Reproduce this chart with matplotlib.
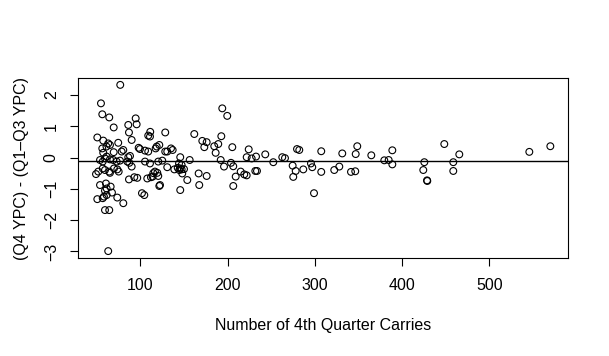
import matplotlib
matplotlib.use("Agg")
import matplotlib.pyplot as plt
import numpy as np

plt.rcParams["font.family"] = ["Liberation Sans", "DejaVu Sans"]

# Carries au 4e quart-temps et écart de YPC
carries = [
    76.8, 54.7, 56.2, 64.2, 69.3, 86.0, 94.5, 95.6, 86.8, 89.9,
    111.2, 108.9, 110.9, 50.5, 57.3, 63.0, 65.0, 61.0, 74.5, 56.2,
    80.3, 78.4, 69.3, 57.3, 97.9, 99.4, 105.2, 108.9, 118.6, 117.4,
    88.0, 86.0, 61.2, 59.3, 65.0, 68.8, 53.6, 56.7, 72.7, 76.5,
    84.9, 87.2, 105.2, 110.9, 120.4, 89.9, 56.7, 59.3, 69.6, 73.4,
    49.0, 51.6, 64.2, 65.0, 75.0, 116.6, 114.7, 122.4, 86.8, 92.9,
    96.3, 107.8, 112.0, 53.6, 60.4, 65.8, 61.2, 67.3, 59.3, 61.2,
    58.1, 50.5, 56.7, 73.4, 80.3, 101.7, 104.4, 59.3, 64.2, 63.0,
    193.8, 199.5, 128.4, 161.7, 192.7, 170.9, 175.9, 173.2, 189.2, 184.6,
    186.2, 205.3, 224.1, 121.6, 128.4, 130.7, 135.0, 136.9, 145.6, 156.4,
    125.0, 144.2, 147.2, 130.7, 138.8, 142.7, 145.3, 147.2, 149.9, 144.5,
    147.9, 119.3, 120.4, 114.0, 121.6, 153.7, 145.6, 166.7, 175.9, 167.4,
    195.8, 192.0, 203.8, 206.4, 209.2, 206.4, 214.9, 219.0, 221.8, 231.7,
    233.6, 221.8, 227.5, 232.5, 243.1, 252.3, 262.6, 265.7, 274.5, 278.0,
    275.2, 279.5, 282.1, 286.7, 295.5, 297.0, 299.0, 307.3, 307.3, 322.2,
    328.0, 331.4, 346.8, 348.6, 341.4, 346.3, 364.7, 379.6, 384.6, 388.8,
    388.8, 425.5, 424.3, 428.6, 428.9, 448.4, 458.7, 458.7, 465.6, 545.9,
    570.0,
]
ecart_ypc = [
    2.32, 1.73, 1.38, 1.28, 0.96, 1.04, 1.25, 1.06, 0.80, 0.56,
    0.82, 0.70, 0.67, 0.64, 0.54, 0.45, 0.40, 0.35, 0.47, 0.29,
    0.24, 0.19, 0.17, 0.15, 0.31, 0.27, 0.22, 0.19, 0.35, 0.29,
    0.05, 0.01, 0.03, -0.03, -0.06, -0.08, -0.08, -0.13, -0.13, -0.10,
    -0.13, -0.17, -0.13, -0.19, -0.13, -0.29, -0.35, -0.40, -0.35, -0.38,
    -0.53, -0.45, -0.45, -0.49, -0.45, -0.45, -0.50, -0.88, -0.70, -0.63,
    -0.65, -0.67, -0.63, -0.88, -0.83, -0.93, -0.99, -1.12, -1.06, -1.20,
    -1.25, -1.33, -1.30, -1.28, -1.46, -1.14, -1.20, -1.68, -1.68, -2.99,
    1.57, 1.33, 0.80, 0.75, 0.68, 0.53, 0.49, 0.33, 0.43, 0.36,
    0.15, 0.33, 0.26, 0.40, 0.19, 0.19, 0.29, 0.24, 0.01, -0.08,
    -0.10, -0.19, -0.24, -0.31, -0.38, -0.33, -0.35, -0.38, -0.37, -0.40,
    -0.51, -0.49, -0.59, -0.61, -0.91, -0.72, -1.04, -0.51, -0.59, -0.88,
    -0.29, -0.08, -0.17, -0.28, -0.61, -0.91, -0.45, -0.54, -0.57, -0.43,
    -0.43, 0.01, -0.03, 0.03, 0.10, -0.15, 0.01, -0.02, -0.26, -0.43,
    -0.62, 0.27, 0.24, -0.38, -0.19, -0.31, -1.14, 0.20, -0.46, -0.40,
    -0.29, 0.13, 0.11, 0.36, -0.46, -0.44, 0.07, -0.09, -0.08, -0.22,
    0.23, -0.15, -0.40, -0.73, -0.75, 0.43, -0.15, -0.43, 0.10, 0.18,
    0.36,
]
ligne_h = -0.11

x_ticks = [100, 200, 300, 400, 500]
y_ticks = [-3, -2, -1, 0, 1, 2]

fig = plt.figure(figsize=(6.09, 3.56), dpi=100)
ax = fig.add_axes([78.3 / 609, 1 - 258.3 / 356, 490 / 609, 180 / 356])

ax.scatter(carries, ecart_ypc, s=24, facecolors="none", edgecolors="black", linewidths=0.8)
ax.axhline(ligne_h, color="black", linewidth=1)

ax.set_xlim(28.7, 590.6)
ax.set_ylim(-3.22, 2.53)
ax.set_xticks(x_ticks)
ax.set_yticks(y_ticks)
ax.tick_params(length=6, width=0.8, labelsize=11.5, pad=8, color="black")
for lbl in ax.get_yticklabels():
    lbl.set_rotation(90)
    lbl.set_va("center")
for sp in ax.spines.values():
    sp.set_linewidth(0.8)

ax.set_xlabel("Number of 4th Quarter Carries", fontsize=11.5, labelpad=18)
ax.set_ylabel("(Q4 YPC) - (Q1\u2013Q3 YPC)", fontsize=11.5, labelpad=11)

fig.savefig("out.png", dpi=100)
